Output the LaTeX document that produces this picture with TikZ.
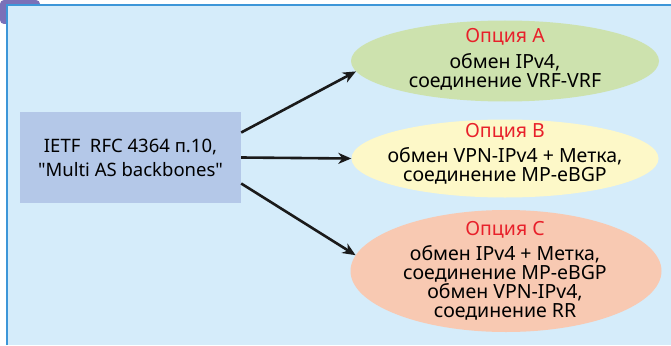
\documentclass[tikz,border=0pt]{standalone}
\usepackage{fontspec}
\setmainfont{Noto Sans}
\usetikzlibrary{arrows.meta,shapes.geometric}
\definecolor{panelfill}{HTML}{D5ECFA}
\definecolor{panelline}{HTML}{3D96D8}
\definecolor{cornerpurple}{HTML}{7A70B8}
\definecolor{boxfill}{HTML}{B4C8E8}
\definecolor{ellA}{HTML}{CDE2AE}
\definecolor{ellB}{HTML}{FDF8C8}
\definecolor{ellC}{HTML}{F8C9B2}
\definecolor{titlered}{HTML}{E8202A}
\definecolor{arrowblack}{HTML}{1A1A1A}
\begin{document}
\begin{tikzpicture}[x=1pt,y=-1pt,
  srcbox/.style={fill=boxfill, draw=none, minimum width=221pt, minimum height=91pt, inner sep=0pt,
    align=center, font=\fontsize{18.5}{24}\selectfont},
  optell/.style={ellipse, draw=none, inner sep=0pt},
  opttitle/.style={anchor=base, text=titlered, font=\fontsize{19.5}{19}\selectfont, inner sep=0pt},
  optbody/.style={anchor=center, align=center, font=\fontsize{19.5}{19}\selectfont, inner sep=0pt},
  conn/.style={draw=arrowblack, line width=2.6pt, -{Stealth[length=13pt,width=11pt,inset=4pt]}}
]
\useasboundingbox (0,0) rectangle (671,345);
\fill[cornerpurple, rounded corners=4pt] (0,0) rectangle (40,24);
\fill[panelfill] (7,5) rectangle (671,345);
\draw[panelline, line width=2pt] (7,345) -- (7,5) -- (671,5);

\node[srcbox] (src) at (130.5,157.5) {IETF\ \ RFC 4364 п.10,\\\textquotedbl Multi AS backbones\textquotedbl};

\node[optell, fill=ellA, minimum width=308pt, minimum height=81pt] (a) at (505,61) {};
\node[optell, fill=ellB, minimum width=307pt, minimum height=78pt] (b) at (505,158.5) {};
\node[optell, fill=ellC, minimum width=311pt, minimum height=122pt] (c) at (506,271) {};

\node[opttitle] (ta) at (505,43) {Опция A};
\node[optbody] (ba) at (505,72) {обмен IPv4,\\соединение VRF-VRF};
\node[opttitle] (tb) at (505,137) {Опция B};
\node[optbody] (bb) at (505,166) {обмен VPN-IPv4 + Метка,\\соединение MP-eBGP};
\node[opttitle] (tc) at (505,235) {Опция C};
\node[optbody] (bc) at (505,283) {обмен IPv4 + Метка,\\соединение MP-eBGP\\обмен VPN-IPv4,\\соединение RR};

\draw[conn] ([yshift=25pt]src.east) -- (a.184);
\draw[conn] (src.east) -- (b.west);
\draw[conn] ([yshift=-26pt]src.east) -- (c.174);
\end{tikzpicture}
\end{document}
